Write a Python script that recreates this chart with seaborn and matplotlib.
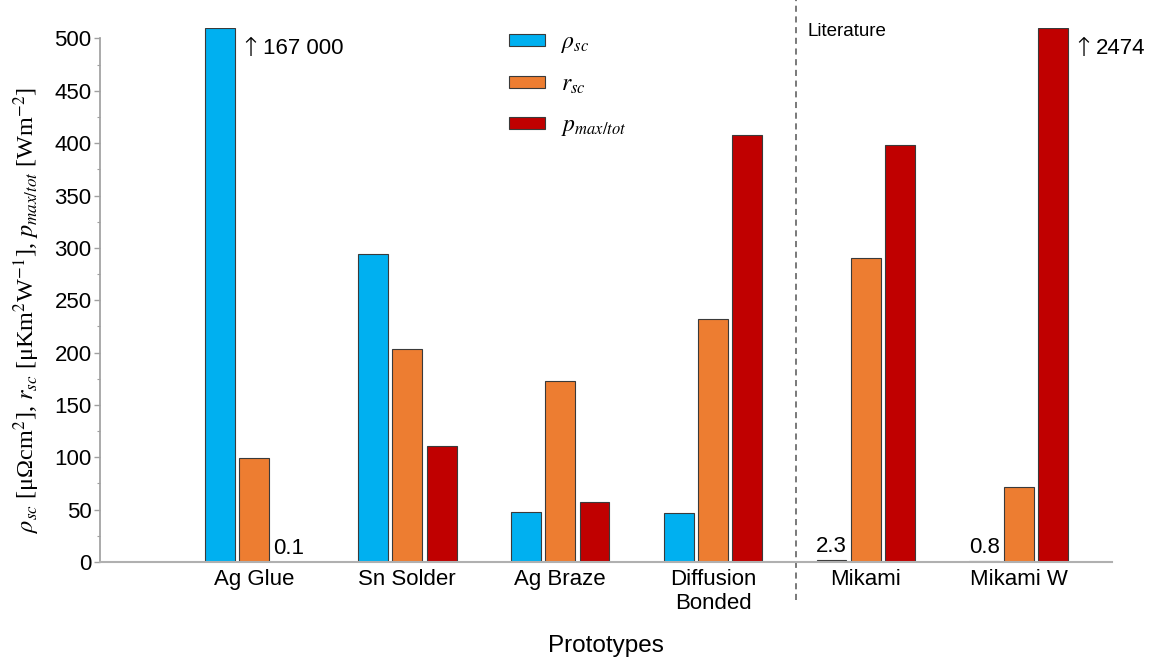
import numpy as np
import pandas as pd
import matplotlib
matplotlib.use("Agg")
import matplotlib.pyplot as plt
import seaborn as sns

categories = ["Ag Glue", "Sn Solder", "Ag Braze", "Diffusion\nBonded", "Mikami", "Mikami W"]
rho_sc = [167000, 294, 48, 47, 2.3, 0.8]
r_sc = [99, 203, 173, 232, 290, 72]
p_max = [0.1, 111, 57, 408, 398, 2474]
series_labels = [r"$\rho_{sc}$", r"$r_{sc}$", r"$p_{max/tot}$"]
colors = ["#00B0F0", "#ED7D31", "#C00000"]
y_cap = 510
yticks = list(range(0, 501, 50))

sns.set_theme(style="white")
plt.rcParams["font.family"] = ["Liberation Sans", "DejaVu Sans"]
plt.rcParams["mathtext.fontset"] = "stix"
plt.rcParams["text.color"] = "black"
plt.rcParams["axes.labelcolor"] = "black"

rows = []
for s, vals in zip(series_labels, [rho_sc, r_sc, p_max]):
    for c, v in zip(categories, vals):
        rows.append({"cat": c, "series": s, "value": v, "shown": min(v, y_cap)})
df = pd.DataFrame(rows)

fig = plt.figure(figsize=(11.51, 6.6), dpi=100)
ax = fig.add_axes([100/1151, 1-562/660, (1112-100)/1151, 534/660])

sns.barplot(data=df, x="cat", y="shown", hue="series", order=categories,
            hue_order=series_labels, palette=colors, width=0.675, gap=0.13,
            edgecolor="#3a3a3a", linewidth=0.8, ax=ax, saturation=1)

ax.set_xlim(-1.01, 5.61)
ax.set_ylim(0, y_cap)
ax.set_yticks(yticks)
ax.set_yticks(range(25, 500, 50), minor=True)
ax.tick_params(axis="y", which="major", length=4, width=1, color="#a0a0a0",
               labelsize=16, pad=2, left=True, labelcolor="black")
ax.tick_params(axis="y", which="minor", length=2.5, width=0.8, color="#a0a0a0", left=True)
ax.tick_params(axis="x", length=0, labelsize=16, pad=5, labelcolor="black")
for sp in ["top", "right"]:
    ax.spines[sp].set_visible(False)
ax.spines["left"].set_bounds(0, 500)
ax.spines["left"].set_color("#a0a0a0")
ax.spines["bottom"].set_color("#b0b0b0")
ax.spines["bottom"].set_linewidth(1.5)

ax.set_xlabel("Prototypes", fontsize=17.5, va="center")
ax.xaxis.set_label_coords(0.5, (562 - 646) / 534)
ax.set_ylabel(r"$\rho_{sc}$ [μΩcm$^2$], $r_{sc}$ [μKm$^2$W$^{-1}$], $p_{max/tot}$ [Wm$^{-2}$]",
              fontsize=17.5, family=["Liberation Serif", "DejaVu Serif"], va="center")
ax.yaxis.set_label_coords(-(100 - 27) / 1012, (562 - 310) / 534)

# annotations for clipped bars
bar_off = {s: (i - 1) * 0.225 for i, s in enumerate(series_labels)}
clipped = [(0, series_labels[0], "167 000"), (5, series_labels[2], "2474")]
for xi, s, t in clipped:
    xa = xi + bar_off[s] + 0.125
    ax.annotate("↑", (xa, 490), ha="left", va="center", fontsize=19,
                family=["DejaVu Sans"], fontweight="light")
    ax.annotate(t, (xa, 490), xytext=(17, 0), textcoords="offset points",
                ha="left", va="center", fontsize=16)

small = [(0, series_labels[2], p_max[0], "0.1"),
         (4, series_labels[0], rho_sc[4], "2.3"),
         (5, series_labels[0], rho_sc[5], "0.8")]
for xi, s, v, t in small:
    ax.annotate(t, (xi + bar_off[s], v), xytext=(0, 2), textcoords="offset points",
                ha="center", va="bottom", fontsize=16)

# literature divider
ax.axvline(3.54, ymin=-0.072, ymax=1.053, color="#555555", lw=1.1,
           ls=(0, (4, 3)), clip_on=False)
ax.text(3.615, 0.994, "Literature", transform=ax.get_xaxis_transform(),
        fontsize=13.5, va="center", ha="left")

leg = ax.legend(loc="upper left", bbox_to_anchor=(0.383, 1.034), frameon=False,
                fontsize=17, handlelength=1.55, handleheight=0.42,
                labelspacing=0.78, handletextpad=0.65)
for h in leg.legend_handles:
    h.set_edgecolor("#3a3a3a")
    h.set_linewidth(0.8)

fig.savefig("out.png", dpi=100)
